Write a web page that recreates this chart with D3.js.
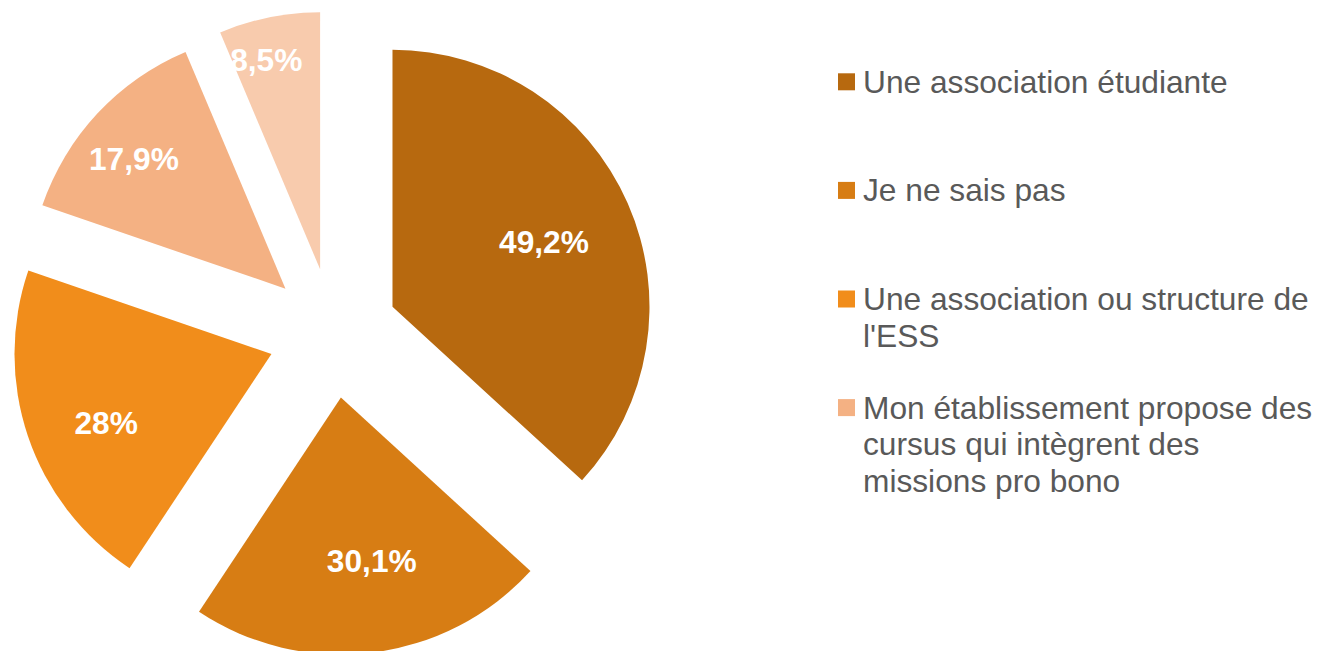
<!DOCTYPE html>
<html>
<head>
<meta charset="utf-8">
<script src="https://cdn.jsdelivr.net/npm/d3@7"></script>
<style>
  html, body { margin: 0; padding: 0; background: #ffffff; }
  svg { display: block; }
</style>
</head>
<body>
<svg id="chart" width="1318" height="651"></svg>
<script>
// ---- data ----
const categories = [
  "Une association étudiante",
  "Je ne sais pas",
  "Une association ou structure de l'ESS",
  "Mon établissement propose des cursus qui intègrent des missions pro bono"
];
const values = [49.2, 30.1, 28, 17.9, 8.5];
const colors = ["#B7690F", "#D77D14", "#F18D1B", "#F4B183", "#F8CBAD"];

// ---- layout ----
const W = 1318, H = 651;
const cx = 333, cy = 333, R = 257, explode = 65;
const labelDist = [165, 166, 179, 200, 216];     // distance of label from slice apex
const labelShiftDeg = [0.4, -3.7, -3.8, -2.3, -3]; // small best-fit shifts
const fontFamily = "Arial, 'Liberation Sans', Helvetica, sans-serif";
const fs = 31.7;

const svg = d3.select("#chart");

const pie = d3.pie().sort(null).value(d => d).startAngle(0).endAngle(2 * Math.PI);
const arcs = pie(values);
const arcGen = d3.arc().innerRadius(0).outerRadius(R);

const g = svg.append("g").attr("transform", `translate(${cx},${cy})`);

function apexOf(a) {
  const m = (a.startAngle + a.endAngle) / 2;
  return [explode * Math.sin(m), -explode * Math.cos(m)];
}

g.selectAll("path.slice")
  .data(arcs)
  .join("path")
  .attr("class", "slice")
  .attr("d", arcGen)
  .attr("fill", (d, i) => colors[i])
  .attr("transform", d => { const p = apexOf(d); return `translate(${p[0]},${p[1]})`; });

const fmt = v => String(v).replace(".", ",") + "%";

g.selectAll("text.lbl")
  .data(arcs)
  .join("text")
  .attr("class", "lbl")
  .attr("x", (d, i) => {
    const p = apexOf(d);
    const m = (d.startAngle + d.endAngle) / 2 + labelShiftDeg[i] * Math.PI / 180;
    return p[0] + labelDist[i] * Math.sin(m);
  })
  .attr("y", (d, i) => {
    const p = apexOf(d);
    const m = (d.startAngle + d.endAngle) / 2 + labelShiftDeg[i] * Math.PI / 180;
    return p[1] - labelDist[i] * Math.cos(m) + 0.358 * fs;
  })
  .attr("text-anchor", "middle")
  .attr("font-family", fontFamily)
  .attr("font-weight", "bold")
  .attr("font-size", fs + "px")
  .attr("fill", "#ffffff")
  .text(d => fmt(d.data));

// ---- legend ----
const legX = 838, legTop = 73.3, legStep = 108.6, sw = 17, textX = 863, maxW = 458, lineH = 36.7;
const leg = svg.append("g");
categories.forEach((c, i) => {
  const top = legTop + i * legStep;
  leg.append("rect")
    .attr("x", legX).attr("y", top)
    .attr("width", sw).attr("height", sw)
    .attr("fill", colors[i]);
  const t = leg.append("text")
    .attr("font-family", fontFamily)
    .attr("font-size", fs + "px")
    .attr("fill", "#595959");
  const words = c.split(" ");
  let line = [];
  let lineNo = 0;
  let ts = t.append("tspan").attr("x", textX).attr("y", top + 19.5);
  words.forEach(w => {
    line.push(w);
    ts.text(line.join(" "));
    if (ts.node().getComputedTextLength() > maxW && line.length > 1) {
      line.pop();
      ts.text(line.join(" "));
      line = [w];
      lineNo++;
      ts = t.append("tspan").attr("x", textX).attr("y", top + 19.5 + lineNo * lineH).text(w);
    }
  });
});
</script>
</body>
</html>
